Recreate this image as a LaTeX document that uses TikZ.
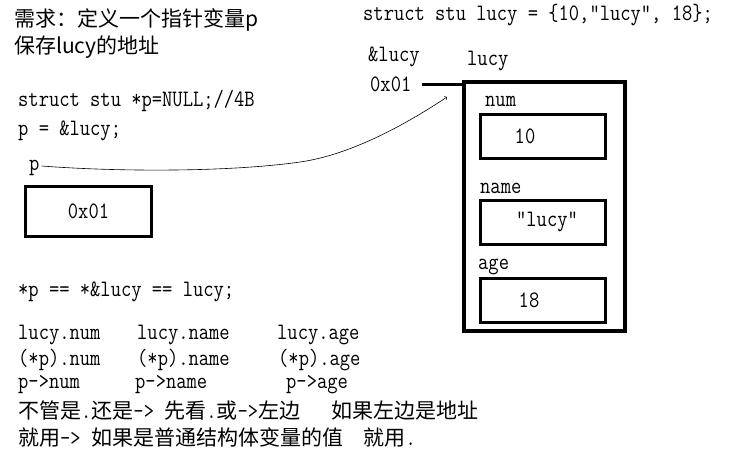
\documentclass[tikz,border=0pt]{standalone}
\usepackage{fontspec}
\setmonofont[FakeStretch=0.85]{Latin Modern Mono}
\newfontfamily\cjk{Noto Sans CJK SC}
\usetikzlibrary{arrows}
% half-width latin inside chinese lines
\newcommand{\hw}[1]{{\fontsize{23.5}{26}\selectfont\ttfamily #1}}

\begin{document}
\begin{tikzpicture}
        [x=1pt, y=-1pt,
        code/.style={anchor=west, inner sep=0pt, font=\fontsize{23.5}{26}\selectfont\ttfamily},
        zh/.style={anchor=west, inner sep=0pt, font=\fontsize{21}{24}\selectfont\cjk},
        cell/.style={draw=black, line width=3pt, minimum width=125pt, minimum height=44pt, inner sep=0pt},
        val/.style={font=\fontsize{23.5}{26}\selectfont\ttfamily},
        arr/.style={->,>=to,semithick}]
        \useasboundingbox (0,0) rectangle (747,450);
        % left column
        \node (need) at (14,20) [zh] {需求：定义一个指针变量p};
        \node (save) at (14,47) [zh] {保存lucy的地址};
        \node (ptrdecl) at (18,101) [code] {struct stu *p=NULL;//4B};
        \node (assign) at (18,131) [code] {p = \&lucy;};
        \node (p) at (29,168) [code] {p};
        \node (pbox) at (88.5,211.5) [cell, minimum width=126pt, minimum height=50pt,
           label={[val]center:0x01}] {};
        % the struct variable
        \node (decl) at (363,15) [code] {struct stu lucy = \{10,”lucy”, 18\};};
        \node (addrof) at (368,57) [code] {\&lucy};
        \node (lucy) at (467,61) [code] {lucy};
        \node (addr) at (370,84) [code] {0x01};
        \node (lucybox) at (544.5,206.5) [draw=black, line width=4pt,
           minimum width=161pt, minimum height=249pt] {};
        \node (numlbl) at (485,101) [code] {num};
        \node (numcell) at (543,136) [cell, label={[val, xshift=-18pt]center:10}] {};
        \node (namelbl) at (480,188) [code] {name};
        \node (namecell) at (543,222) [cell, label={[val, xshift=4pt]center:”lucy”}] {};
        \node (agelbl) at (478,267) [code] {age};
        \node (agecell) at (543,300.5) [cell, label={[val, xshift=-14pt]center:18}] {};
        \coordinate (tip) at (447,97);
        \draw[line width=3pt] (addr.east) ++(10,0) -- (addr.east -| lucybox.west);
        \draw[arr] (p.east) ++(2,-2) .. controls (120,172) and (230,172) .. (300,162)
           .. controls (350,155) and (405,125) .. (tip);
        % member access
        \node (deref) at (18,292) [code] {*p == *\&lucy == lucy;};
        \node (dotnum) at (18,335) [code] {lucy.num};
        \node (dotname) at (137,335) [code] {lucy.name};
        \node (dotage) at (277,335) [code] {lucy.age};
        \node (pdotnum) at (18,360) [code] {(*p).num};
        \node (pdotname) at (137,360) [code] {(*p).name};
        \node (pdotage) at (278,360) [code] {(*p).age};
        \node (arrnum) at (18,385) [code] {p->num};
        \node (arrname) at (135,385) [code] {p->name};
        \node (arrage) at (286,385) [code] {p->age};
        \node (rule1) at (18,411) [zh] {不管是\hw{.}还是\hw{->~}先看\hw{.}或\hw{->}左边\hw{~~~}如果左边是地址};
        \node (rule2) at (18,437) [zh] {就用\hw{->~}如果是普通结构体变量的值\hw{~~}就用\hw{.}};
\end{tikzpicture}
\end{document}
